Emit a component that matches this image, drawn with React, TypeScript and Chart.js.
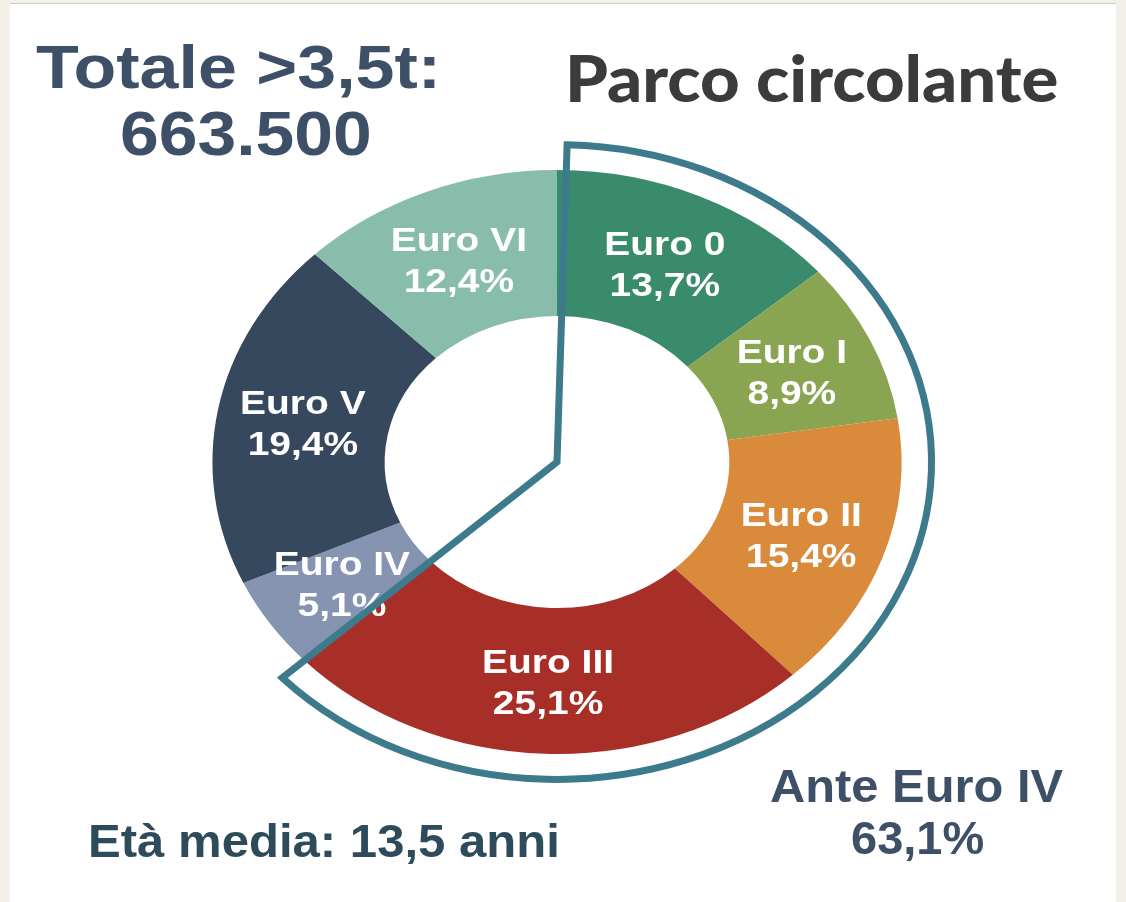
import React, { useEffect, useLayoutEffect, useRef, useState } from 'react';
import { Chart, registerables } from 'chart.js';

Chart.register(...registerables);

// ---- data ----
const categories = ['Euro 0', 'Euro I', 'Euro II', 'Euro III', 'Euro IV', 'Euro V', 'Euro VI'];
const shares = [13.7, 8.9, 15.4, 25.1, 5.1, 19.4, 12.4];
const segmentColors = ['#3a8b6c', '#8aa551', '#d98a3a', '#a82f27', '#8494b1', '#36485e', '#87bdaa'];
const anteGroup = ['Euro 0', 'Euro I', 'Euro II', 'Euro III'];
const anteLabel = 'Ante Euro IV';
const anteShare = '63,1%';
const totalLabel = 'Totale >3,5t:';
const totalValue = '663.500';
const titleText = 'Parco circolante';
const ageText = 'Età media: 13,5 anni';

const fmt = (v: number) => v.toFixed(1).replace('.', ',') + '%';

const SX = 1.18; // horizontal stretch of the ring
const RING_OUT = 1.087;
const OUTLINE_TILT = 0.027;

const ellipsePlugin = {
  id: 'ellipseRing',
  beforeDatasetsDraw(chart: any) {
    const meta = chart.getDatasetMeta(0);
    const a = meta.data[0];
    if (!a) return;
    const ctx = chart.ctx;
    ctx.save();
    ctx.translate(a.x, a.y);
    ctx.scale(SX, 1);
    ctx.translate(-a.x, -a.y);
  },
  afterDatasetsDraw(chart: any) {
    const ctx = chart.ctx;
    const meta = chart.getDatasetMeta(0);
    if (!meta.data.length) return;
    ctx.fillStyle = '#ffffff';
    ctx.font = 'bold 33px "Liberation Sans", Arial, sans-serif';
    ctx.textAlign = 'center';
    ctx.textBaseline = 'alphabetic';
    meta.data.forEach((arc: any, i: number) => {
      const p = arc.tooltipPosition(false);
      ctx.fillText(categories[i], p.x, p.y - 8);
      ctx.fillText(fmt(shares[i]), p.x, p.y + 33);
    });
    ctx.restore();

    // outline around the "Ante Euro IV" group
    const idx = anteGroup.map((c) => categories.indexOf(c));
    const first = meta.data[idx[0]];
    const last = meta.data[idx[idx.length - 1]];
    const cx = first.x;
    const cy = first.y;
    const R = first.outerRadius * RING_OUT;
    ctx.save();
    ctx.beginPath();
    ctx.moveTo(cx, cy);
    ctx.ellipse(cx, cy, R * SX, R, 0, first.startAngle + OUTLINE_TILT, last.endAngle);
    ctx.closePath();
    ctx.lineWidth = 7;
    ctx.lineJoin = 'miter';
    ctx.strokeStyle = '#3c7a8c';
    ctx.stroke();
    ctx.restore();
  },
};

function FitText(props: {
  text: string;
  left: number;
  top: number;
  width: number;
  size: number;
  color: string;
  family: string;
  weight?: number;
}) {
  const ref = useRef<HTMLSpanElement>(null);
  const [sx, setSx] = useState(1);
  useLayoutEffect(() => {
    const el = ref.current;
    if (el && el.offsetWidth) setSx(props.width / el.offsetWidth);
  }, [props.text, props.width, props.size]);
  return (
    <span
      ref={ref}
      style={{
        position: 'absolute',
        left: props.left,
        top: props.top,
        fontSize: props.size,
        lineHeight: 1,
        fontFamily: props.family,
        fontWeight: props.weight ?? 700,
        color: props.color,
        whiteSpace: 'nowrap',
        transform: `scaleX(${sx})`,
        transformOrigin: '0 0',
      }}
    >
      {props.text}
    </span>
  );
}

export default function App() {
  const canvasRef = useRef<HTMLCanvasElement>(null);

  useEffect(() => {
    if (!canvasRef.current) return;
    const chart = new Chart(canvasRef.current, {
      type: 'doughnut',
      data: {
        labels: categories,
        datasets: [
          {
            data: shares,
            backgroundColor: segmentColors,
            borderWidth: 0,
            hoverOffset: 0,
            offset: 0,
            clip: false as any,
          },
        ],
      },
      options: {
        animation: false,
        responsive: true,
        maintainAspectRatio: false,
        events: [],
        cutout: '50%',
        rotation: 0,
        layout: { padding: { left: 265, right: 277, top: 170, bottom: 148 } },
        plugins: {
          legend: { display: false },
          tooltip: { enabled: false },
        },
      },
      plugins: [ellipsePlugin],
    });
    return () => chart.destroy();
  }, []);

  const arial = '"Liberation Sans", Arial, Helvetica, sans-serif';

  return (
    <div
      style={{
        position: 'fixed',
        left: 0,
        top: 0,
        width: 1126,
        height: 902,
        background: '#f3f0e9',
        overflow: 'hidden',
      }}
    >
      <div
        style={{
          position: 'absolute',
          left: 10,
          top: 3,
          width: 1106,
          height: 910,
          background: '#ffffff',
          borderTop: '1px solid #d4cfc5',
        }}
      />
      <div style={{ position: 'absolute', left: 0, top: 0, width: 1126, height: 902 }}>
        <canvas ref={canvasRef} />
      </div>
      <FitText text={totalLabel} left={36} top={37} width={405} size={61} color="#3e5068" family={arial} />
      <FitText text={totalValue} left={120} top={102} width={252} size={63} color="#3e5068" family={arial} />
      <FitText text={titleText} left={565} top={46} width={493} size={64} color="#3b3b3b" family='Lato, "Open Sans", sans-serif' weight={900} />
      <FitText text={anteLabel} left={770} top={762} width={293} size={47} color="#3e5068" family={arial} />
      <FitText text={anteShare} left={851} top={814} width={133} size={47} color="#3e5068" family={arial} />
      <FitText text={ageText} left={88} top={817} width={472} size={47} color="#2d4b5a" family={arial} />
    </div>
  );
}
